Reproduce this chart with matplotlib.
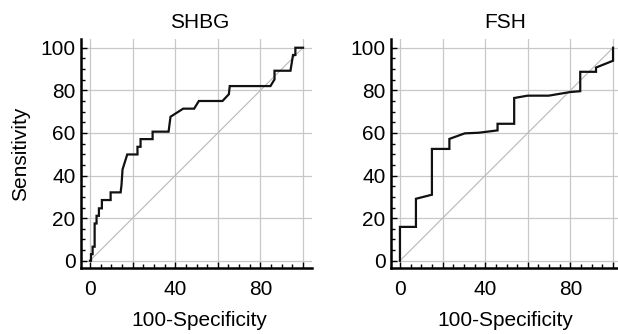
import matplotlib
matplotlib.use("Agg")
import matplotlib.pyplot as plt
from matplotlib.ticker import MultipleLocator

plt.rcParams['font.family'] = ['Liberation Sans', 'DejaVu Sans']

# ROC points (100-Specificity, Sensitivity)
shbg_fpr = [0, 0.5, 0.5, 1.25, 1.25, 2.2, 2.2, 3.1, 3.1, 4.2, 4.2, 5.6, 5.6, 9.7, 9.7,
            14.4, 14.8, 15.3, 17.5, 22.3, 22.3, 23.75, 23.75, 29.4, 29.4, 36.9, 37.8,
            43.75, 48.9, 51.1, 62.2, 65.2, 65.6, 84.7, 86.6, 86.6, 94.1, 95.3, 96.4,
            96.4, 100]
shbg_tpr = [0, 0, 3.1, 3.1, 6.6, 6.6, 17.5, 17.5, 21.1, 21.1, 24.6, 24.6, 28.5, 28.5, 32.1,
            32.1, 35.5, 42.9, 49.9, 49.9, 53.5, 53.5, 57.1, 57.1, 60.6, 60.6, 67.6,
            71.4, 71.4, 75.0, 75.0, 78.2, 82.0, 82.0, 85.1, 89.2, 89.2, 96.6, 96.6,
            100, 100]

fsh_fpr = [0, 0, 7.5, 7.5, 15.0, 15.0, 23.2, 23.2, 30.4, 37.0, 45.8, 45.8, 53.6, 53.6,
           59.9, 69.8, 79.9, 84.6, 84.6, 92.0, 92.0, 100, 100]
fsh_tpr = [0, 15.9, 15.9, 29.1, 31.0, 52.5, 52.5, 57.2, 59.8, 60.1, 61.2, 64.3, 64.3, 76.4,
           77.5, 77.5, 79.2, 79.6, 88.7, 88.7, 90.7, 93.9, 100]

titles = ["SHBG", "FSH"]
curves = [(shbg_fpr, shbg_tpr), (fsh_fpr, fsh_tpr)]
x_ticklabels = [0, 40, 80]
y_ticklabels = [0, 20, 40, 60, 80, 100]

fig = plt.figure(figsize=(6.18, 3.34), dpi=100)
lefts = [81 / 618, 391 / 618]
text_x = [0.513, 0.496]
axes = [fig.add_axes([l, 66 / 334, 231 / 618, 229 / 334]) for l in lefts]

fs = 15
for i, ax in enumerate(axes):
    fpr, tpr = curves[i]
    ax.plot([0, 100], [0, 100], color='#b8b8b8', lw=0.8, zorder=2)
    ax.plot(fpr, tpr, color='#111111', lw=1.6, zorder=3, solid_joinstyle='miter')
    ax.set_xlim(-4.2, 104.2)
    ax.set_ylim(-3.4, 104.1)
    ax.xaxis.set_minor_locator(MultipleLocator(5))
    ax.yaxis.set_minor_locator(MultipleLocator(5))
    ax.set_xticks(range(0, 101, 20))
    ax.set_xticklabels([str(v) if v in x_ticklabels else '' for v in range(0, 101, 20)])
    ax.set_yticks(y_ticklabels)
    ax.set_yticklabels([str(v) for v in y_ticklabels])
    ax.grid(True, which='major', color='#c8c8c8', lw=0.9, zorder=1)
    for s in ['top', 'right']:
        ax.spines[s].set_visible(False)
    for s in ['left', 'bottom']:
        ax.spines[s].set_linewidth(1.8)
    ax.tick_params(which='major', direction='in', length=4, width=1.0, labelsize=fs)
    ax.tick_params(which='minor', direction='in', length=3, width=1.0)
    ax.tick_params(axis='x', which='major', pad=8.5)
    ax.tick_params(axis='y', which='major', pad=4)
    ax.set_title(titles[i], fontsize=fs, pad=8, x=text_x[i])
    ax.set_xlabel("100-Specificity", fontsize=fs, labelpad=8.5)
    ax.xaxis.label.set_x(text_x[i])

axes[0].set_ylabel("Sensitivity", fontsize=fs)
axes[0].yaxis.set_label_coords(-0.222, 0.5)

fig.savefig("out.png", dpi=100)
